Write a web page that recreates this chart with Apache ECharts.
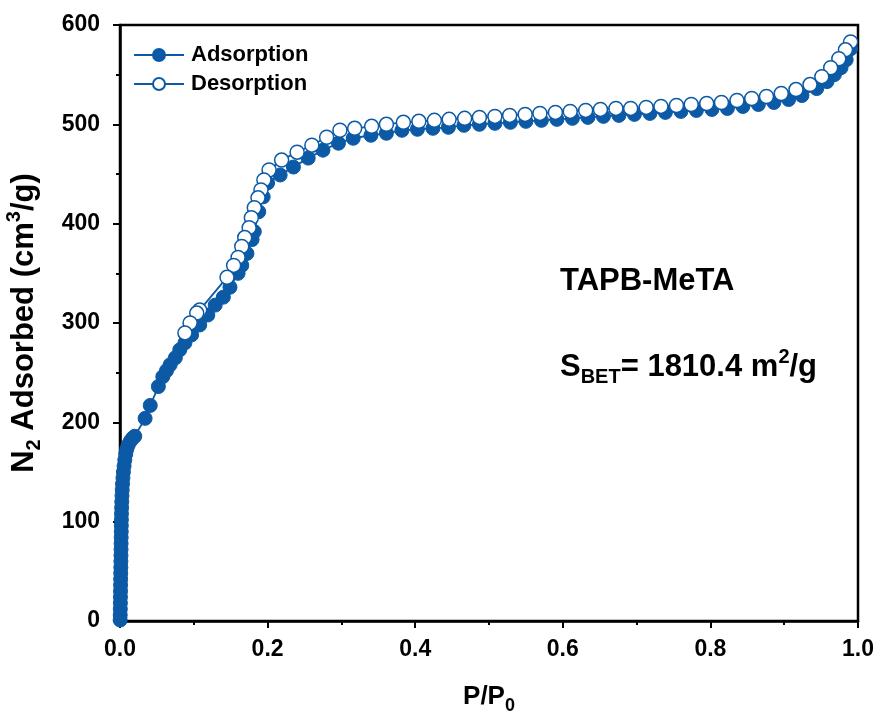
<!DOCTYPE html>
<html>
<head>
<meta charset="utf-8">
<script src="https://cdn.jsdelivr.net/npm/echarts@6/dist/echarts.min.js"></script>
<style>html,body{margin:0;padding:0;background:#fff}#c{width:880px;height:722px}</style>
</head>
<body>
<div id="c"></div>
<script>
// Adsorption branch (P/P0, cm3/g)
var adsP = [0.0002,0.0003,0.0004,0.0005,0.0006,0.0007,0.0008,0.0009,0.0010,0.0011,0.0012,0.0013,0.0014,0.0015,0.0016,0.0017,0.0018,0.0019,0.0020,0.0022,0.0024,0.0027,0.0030,0.0034,0.0040,0.0046,0.0055,0.0065,0.0078,0.0092,0.011,0.014,0.017,0.020,
  0.034,0.041,0.052,0.058,0.063,0.068,0.075,0.081,0.088,0.097,0.108,0.119,0.129,0.140,0.149,0.160,0.165,0.172,0.179,0.182,0.188,0.194,0.200,0.217,0.235,0.255,0.275,0.296,0.316,0.340,0.361,
  0.382,0.403,0.424,0.445,0.466,0.487,0.508,0.529,0.550,0.571,0.592,0.613,0.634,0.655,0.676,0.697,0.718,0.739,0.760,0.781,0.802,0.823,0.844,0.865,0.886,0.906,0.924,0.944,0.958,0.968,0.977,0.984,0.990];
var adsV = [1,6,12,18,24,30,36,42,48,54,60,66,72,78,84,90,96,102,108,114,120,126,132,138,144,150,156,162,168,173,177,181,184,186,
  204,217,236,246,252,258,265,273,280,288,298,308,318,326,336,350,358,370,384,392,412,427,441,449,457,466,474,481,486,489,491,
  494,495,496,497,499,500,501,502,503,504,505,506,507,508,509,510,511,512,513,514,515,516,518,520,522,525,529,536,543,550,557,565,576];
// Desorption branch
var desP = [0.990,0.983,0.974,0.963,0.951,0.935,0.916,0.896,0.876,0.856,0.836,0.815,0.795,0.774,0.754,0.733,0.713,0.692,0.672,0.651,0.631,0.610,0.590,0.569,0.549,0.528,0.508,0.487,0.467,0.446,0.426,0.405,0.384,0.361,0.341,0.318,0.298,0.280,0.260,0.240,0.219,0.202,0.195,0.191,0.187,0.182,0.178,0.175,0.169,0.165,0.160,0.154,0.145,0.108,0.104,0.095,0.088];
var desV = [583,575,566,557,548,540,535,531,528,526,524,522,521,520,519,518,517,516,516,515,514,513,512,511,510,509,508,507,506,505,504,503,502,500,498,496,494,487,479,472,464,454,444,434,426,416,406,396,386,377,366,358,346,313,310,300,290];
var seriesNames = ['Adsorption','Desorption'];
var xTicks = [0.0,0.2,0.4,0.6,0.8,1.0];
var yTicks = [0,100,200,300,400,500,600];
var sampleName = 'TAPB-MeTA';
var sbetValue = '1810.4';

function pairs(px, py){ var r=[]; for(var i=0;i<px.length;i++) r.push([px[i],py[i]]); return r; }
var blue = '#0C5AA6';
var font = '"Liberation Sans", Arial, sans-serif';
var chart = echarts.init(document.getElementById('c'), null, {renderer:'canvas'});
chart.setOption({
  animation:false,
  backgroundColor:'#fff',
  grid:{left:120, right:22, top:25, bottom:101, containLabel:false, outerBoundsMode:'none',
        show:true, borderColor:'#000', borderWidth:2.5, backgroundColor:'transparent'},
  legend:{
    left:128, top:39, orient:'vertical', itemWidth:50, itemHeight:15, itemGap:7,
    data:seriesNames,
    textStyle:{fontFamily:font, fontWeight:'bold', fontSize:22, color:'#000', padding:[0,0,0,2]}
  },
  xAxis:{
    type:'value', min:0, max:1, interval:0.2,
    name:'{a|P/P}{s|0}', nameLocation:'middle', nameGap:58,
    nameTextStyle:{rich:{
      a:{fontFamily:font, fontWeight:'bold', fontSize:26, color:'#000', lineHeight:36, verticalAlign:'middle'},
      s:{fontFamily:font, fontWeight:'bold', fontSize:18, color:'#000', verticalAlign:'bottom', lineHeight:36}
    }},
    axisLine:{lineStyle:{color:'#000', width:2.5}},
    axisTick:{inside:false, length:7, lineStyle:{color:'#000', width:2}},
    minorTick:{show:true, splitNumber:2, length:4, lineStyle:{color:'#000', width:2}},
    splitLine:{show:false},
    axisLabel:{margin:17, fontFamily:font, fontWeight:'bold', fontSize:23, color:'#000', formatter:function(v){return v.toFixed(1);}}
  },
  yAxis:{
    type:'value', min:0, max:600, interval:100,
    name:'{a|N}{s|2}{a| Adsorbed (cm}{p|3}{a|/g)}', nameLocation:'middle', nameGap:76, nameRotate:90,
    nameTextStyle:{rich:{
      a:{fontFamily:font, fontWeight:'bold', fontSize:31, color:'#000', lineHeight:40, verticalAlign:'middle'},
      s:{fontFamily:font, fontWeight:'bold', fontSize:20, color:'#000', verticalAlign:'bottom', lineHeight:40},
      p:{fontFamily:font, fontWeight:'bold', fontSize:20, color:'#000', verticalAlign:'top', lineHeight:40}
    }},
    axisLine:{lineStyle:{color:'#000', width:2.5}},
    axisTick:{inside:false, length:7, lineStyle:{color:'#000', width:2}},
    minorTick:{show:true, splitNumber:2, length:4, lineStyle:{color:'#000', width:2}},
    splitLine:{show:false},
    axisLabel:{margin:20, fontFamily:font, fontWeight:'bold', fontSize:23, color:'#000'}
  },
  series:[
    {name:seriesNames[0], type:'line', data:pairs(adsP,adsV), symbol:'circle', symbolSize:14,
     lineStyle:{color:blue, width:1.8}, itemStyle:{color:blue, borderColor:blue, borderWidth:1}, z:2},
    {name:seriesNames[1], type:'line', data:pairs(desP,desV), symbol:'circle', symbolSize:14,
     lineStyle:{color:blue, width:1.8}, itemStyle:{color:'#fff', borderColor:blue, borderWidth:1.5}, z:3}
  ],
  graphic:[
    {type:'text', left:560, top:266, style:{text:sampleName, fontFamily:font, fontWeight:'bold', fontSize:31, fill:'#000'}},
    {type:'text', left:560, top:347, style:{
      text:'{a|S}{s|BET}{a|= '+sbetValue+' m}{p|2}{a|/g}',
      rich:{
        a:{fontFamily:font, fontWeight:'bold', fontSize:31, fill:'#000', lineHeight:40, verticalAlign:'middle'},
        s:{fontFamily:font, fontWeight:'bold', fontSize:20, fill:'#000', lineHeight:40, verticalAlign:'bottom'},
        p:{fontFamily:font, fontWeight:'bold', fontSize:20, fill:'#000', lineHeight:40, verticalAlign:'top'}
      }}}
  ]
});
</script>
</body>
</html>
